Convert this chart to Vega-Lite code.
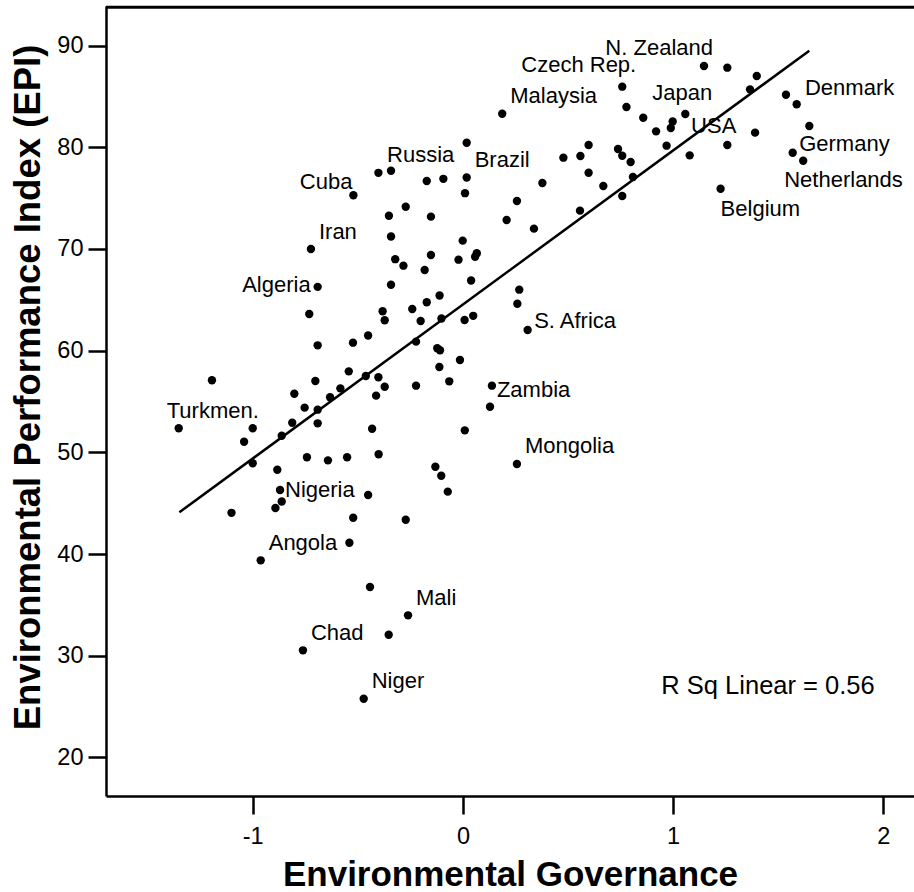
{
  "$schema": "https://vega.github.io/schema/vega-lite/v6.json",
  "width": 810,
  "height": 790,
  "autosize": {"type": "none"},
  "padding": {"left": 106, "top": 6, "right": -2, "bottom": 96},
  "background": "white",
  "config": {
    "view": {"stroke": null},
    "font": "Liberation Sans",
    "axis": {
      "domainColor": "black", "domainWidth": 2.5, "tickColor": "black", "tickWidth": 2.5, "tickSize": 18,
      "labelFont": "Liberation Sans", "labelFontSize": 23.5, "labelColor": "black",
      "titleFont": "Liberation Sans", "titleFontSize": 35, "titleFontWeight": "bold", "titleColor": "black",
      "grid": false
    }
  },
  "datasets": {
    "countries": [
      {"g": 1.147, "epi": 87.98, "country": "N. Zealand"},
      {"g": 1.258, "epi": 87.82},
      {"g": 1.398, "epi": 87.00},
      {"g": 1.366, "epi": 85.69},
      {"g": 0.758, "epi": 85.95, "country": "Czech Rep."},
      {"g": 0.778, "epi": 83.95},
      {"g": 0.187, "epi": 83.29, "country": "Malaysia"},
      {"g": 0.858, "epi": 82.90},
      {"g": 0.919, "epi": 81.56},
      {"g": 0.998, "epi": 82.53},
      {"g": 0.989, "epi": 81.89},
      {"g": 0.969, "epi": 80.15},
      {"g": 1.058, "epi": 83.26, "country": "Japan"},
      {"g": 1.537, "epi": 85.16, "country": "Denmark"},
      {"g": 1.588, "epi": 84.22},
      {"g": 1.648, "epi": 82.08},
      {"g": 1.390, "epi": 81.43},
      {"g": 1.258, "epi": 80.22, "country": "USA"},
      {"g": 1.079, "epi": 79.20},
      {"g": 1.569, "epi": 79.46, "country": "Germany"},
      {"g": 1.619, "epi": 78.67, "country": "Netherlands"},
      {"g": 1.226, "epi": 75.92, "country": "Belgium"},
      {"g": 0.809, "epi": 77.07},
      {"g": 0.758, "epi": 75.20},
      {"g": 0.738, "epi": 79.82},
      {"g": 0.758, "epi": 79.16},
      {"g": 0.798, "epi": 78.54},
      {"g": 0.598, "epi": 80.22},
      {"g": 0.478, "epi": 78.97},
      {"g": 0.559, "epi": 79.13},
      {"g": 0.598, "epi": 77.49},
      {"g": 0.668, "epi": 76.18},
      {"g": 0.557, "epi": 73.76},
      {"g": 0.378, "epi": 76.48},
      {"g": 0.338, "epi": 71.99},
      {"g": 0.257, "epi": 74.71},
      {"g": 0.208, "epi": 72.84},
      {"g": 0.018, "epi": 80.44},
      {"g": 0.018, "epi": 77.02, "country": "Brazil"},
      {"g": 0.010, "epi": 75.48},
      {"g": -0.093, "epi": 76.89},
      {"g": -0.172, "epi": 76.68},
      {"g": -0.342, "epi": 77.68, "country": "Russia"},
      {"g": -0.402, "epi": 77.48},
      {"g": -0.521, "epi": 75.28, "country": "Cuba"},
      {"g": -0.272, "epi": 74.14},
      {"g": -0.352, "epi": 73.26},
      {"g": -0.152, "epi": 73.17},
      {"g": -0.342, "epi": 71.22},
      {"g": -0.001, "epi": 70.81},
      {"g": -0.723, "epi": 69.99, "country": "Iran"},
      {"g": -0.322, "epi": 68.99},
      {"g": -0.283, "epi": 68.35},
      {"g": -0.152, "epi": 69.40},
      {"g": -0.182, "epi": 67.93},
      {"g": -0.021, "epi": 68.94},
      {"g": 0.066, "epi": 69.57},
      {"g": 0.058, "epi": 69.23},
      {"g": 0.039, "epi": 66.89},
      {"g": -0.691, "epi": 66.27, "country": "Algeria"},
      {"g": -0.342, "epi": 66.48},
      {"g": -0.731, "epi": 63.60},
      {"g": -0.382, "epi": 63.87},
      {"g": -0.372, "epi": 62.99},
      {"g": -0.241, "epi": 64.09},
      {"g": -0.172, "epi": 64.76},
      {"g": -0.111, "epi": 65.42},
      {"g": -0.201, "epi": 62.91},
      {"g": -0.102, "epi": 63.16},
      {"g": 0.008, "epi": 63.01},
      {"g": 0.049, "epi": 63.42},
      {"g": 0.268, "epi": 65.99},
      {"g": 0.259, "epi": 64.61},
      {"g": 0.308, "epi": 62.03, "country": "S. Africa"},
      {"g": -0.691, "epi": 60.52},
      {"g": -0.523, "epi": 60.78},
      {"g": -0.451, "epi": 61.48},
      {"g": -1.194, "epi": 57.08},
      {"g": -0.702, "epi": 57.01},
      {"g": -0.543, "epi": 57.96},
      {"g": -0.462, "epi": 57.50},
      {"g": -0.402, "epi": 57.38},
      {"g": -0.372, "epi": 56.45},
      {"g": -0.413, "epi": 55.57},
      {"g": -0.802, "epi": 55.76},
      {"g": -0.583, "epi": 56.29},
      {"g": -0.632, "epi": 55.41},
      {"g": -0.753, "epi": 54.39},
      {"g": -0.691, "epi": 54.19},
      {"g": -0.223, "epi": 60.88},
      {"g": -0.122, "epi": 60.23},
      {"g": -0.109, "epi": 60.03},
      {"g": -0.014, "epi": 59.08},
      {"g": -0.112, "epi": 58.39},
      {"g": -0.065, "epi": 56.98},
      {"g": -0.223, "epi": 56.55},
      {"g": 0.138, "epi": 56.55, "country": "Zambia"},
      {"g": 0.129, "epi": 54.48},
      {"g": 0.009, "epi": 52.16},
      {"g": 0.257, "epi": 48.85, "country": "Mongolia"},
      {"g": -0.131, "epi": 48.58},
      {"g": -0.103, "epi": 47.70},
      {"g": -0.072, "epi": 46.13},
      {"g": -0.272, "epi": 43.37},
      {"g": -1.352, "epi": 52.36, "country": "Turkmen."},
      {"g": -1.000, "epi": 52.36},
      {"g": -0.812, "epi": 52.91},
      {"g": -0.691, "epi": 52.85},
      {"g": -1.041, "epi": 51.04},
      {"g": -0.862, "epi": 51.63},
      {"g": -0.432, "epi": 52.32},
      {"g": -1.000, "epi": 48.92},
      {"g": -0.742, "epi": 49.51},
      {"g": -0.642, "epi": 49.21},
      {"g": -0.551, "epi": 49.51},
      {"g": -0.401, "epi": 49.81},
      {"g": -0.883, "epi": 48.29},
      {"g": -0.870, "epi": 46.29, "country": "Nigeria"},
      {"g": -0.862, "epi": 45.16},
      {"g": -0.892, "epi": 44.52},
      {"g": -0.451, "epi": 45.80},
      {"g": -1.101, "epi": 44.05},
      {"g": -0.522, "epi": 43.56},
      {"g": -0.540, "epi": 41.11},
      {"g": -0.962, "epi": 39.38, "country": "Angola"},
      {"g": -0.442, "epi": 36.76},
      {"g": -0.261, "epi": 33.97, "country": "Mali"},
      {"g": -0.353, "epi": 32.06},
      {"g": -0.761, "epi": 30.53, "country": "Chad"},
      {"g": -0.472, "epi": 25.77, "country": "Niger"}
    ],
    "fit": [
      {"g": -1.349, "epi": 44.10},
      {"g": 1.648, "epi": 89.49}
    ],
    "note": [
      {"g": 1.4515, "epi": 26.20, "text": "R Sq Linear = 0.56"}
    ]
  },
  "layer": [
    {"data": {"name": "countries"}, "mark": {"type": "circle", "size": 70, "color": "black", "opacity": 1},
      "encoding": {
        "x": {"field": "g", "type": "quantitative", "scale": {"domain": [-1.698, 2.1556], "nice": false, "zero": false},
          "axis": {"values": [-1, 0, 1, 2], "labelExpr": "toString(datum.value)", "title": "Environmental Governance", "labelPadding": 10, "titleBaseline": "alphabetic", "titleY": 89, "titleX": 404, "titleAnchor": "middle"}},
        "y": {"field": "epi", "type": "quantitative", "scale": {"domain": [16.205, 93.884], "nice": false, "zero": false},
          "axis": {"values": [20, 30, 40, 50, 60, 70, 80, 90], "title": "Environmental Performance Index (EPI)", "labelPadding": 5, "titleFontSize": 36.5, "titleBaseline": "alphabetic", "titleX": -67, "titleY": 381, "titleAngle": -90, "titleAlign": "center"}}
      }},
    {"data": {"name": "fit"}, "mark": {"type": "line", "color": "black", "strokeWidth": 2.5},
      "encoding": {"x": {"field": "g", "type": "quantitative"}, "y": {"field": "epi", "type": "quantitative"}}},
    {"data": {"name": "note"}, "mark": {"type": "text", "fontSize": 25.5, "align": "center", "baseline": "alphabetic", "color": "black"},
      "encoding": {"x": {"field": "g", "type": "quantitative"}, "y": {"field": "epi", "type": "quantitative"}, "text": {"field": "text"}}},
    {"data": {"name": "countries"}, "transform": [{"filter": {"field": "country", "oneOf": ["Iran", "Brazil", "Malaysia", "Mongolia", "Mali", "Chad", "Niger", "Angola"]}}],
      "mark": {"type": "text", "fontSize": 22, "align": "left", "baseline": "middle", "dx": 8, "dy": -17.5, "color": "black"},
      "encoding": {"x": {"field": "g", "type": "quantitative"}, "y": {"field": "epi", "type": "quantitative"}, "text": {"field": "country"}}},
    {"data": {"name": "countries"}, "transform": [{"filter": {"field": "country", "oneOf": ["Nigeria"]}}],
      "mark": {"type": "text", "fontSize": 22, "align": "left", "baseline": "middle", "dx": 5, "dy": 0, "color": "black"},
      "encoding": {"x": {"field": "g", "type": "quantitative"}, "y": {"field": "epi", "type": "quantitative"}, "text": {"field": "country"}}},
    {"data": {"name": "countries"}, "transform": [{"filter": {"field": "country", "oneOf": ["Zambia"]}}],
      "mark": {"type": "text", "fontSize": 22, "align": "left", "baseline": "middle", "dx": 5, "dy": 4, "color": "black"},
      "encoding": {"x": {"field": "g", "type": "quantitative"}, "y": {"field": "epi", "type": "quantitative"}, "text": {"field": "country"}}},
    {"data": {"name": "countries"}, "transform": [{"filter": {"field": "country", "oneOf": ["S. Africa", "Germany"]}}],
      "mark": {"type": "text", "fontSize": 22, "align": "left", "baseline": "middle", "dx": 6.5, "dy": -8.5, "color": "black"},
      "encoding": {"x": {"field": "g", "type": "quantitative"}, "y": {"field": "epi", "type": "quantitative"}, "text": {"field": "country"}}},
    {"data": {"name": "countries"}, "transform": [{"filter": {"field": "country", "oneOf": ["Russia"]}}],
      "mark": {"type": "text", "fontSize": 22, "align": "left", "baseline": "middle", "dx": -4, "dy": -16, "color": "black"},
      "encoding": {"x": {"field": "g", "type": "quantitative"}, "y": {"field": "epi", "type": "quantitative"}, "text": {"field": "country"}}},
    {"data": {"name": "countries"}, "transform": [{"filter": {"field": "country", "oneOf": ["Denmark"]}}],
      "mark": {"type": "text", "fontSize": 22, "align": "left", "baseline": "middle", "dx": 19, "dy": -7, "color": "black"},
      "encoding": {"x": {"field": "g", "type": "quantitative"}, "y": {"field": "epi", "type": "quantitative"}, "text": {"field": "country"}}},
    {"data": {"name": "countries"}, "transform": [{"filter": {"field": "country", "oneOf": ["Belgium"]}}],
      "mark": {"type": "text", "fontSize": 22, "align": "left", "baseline": "middle", "dx": 0, "dy": 20, "color": "black"},
      "encoding": {"x": {"field": "g", "type": "quantitative"}, "y": {"field": "epi", "type": "quantitative"}, "text": {"field": "country"}}},
    {"data": {"name": "countries"}, "transform": [{"filter": {"field": "country", "oneOf": ["Netherlands"]}}],
      "mark": {"type": "text", "fontSize": 22, "align": "left", "baseline": "middle", "dx": -19, "dy": 19, "color": "black"},
      "encoding": {"x": {"field": "g", "type": "quantitative"}, "y": {"field": "epi", "type": "quantitative"}, "text": {"field": "country"}}},
    {"data": {"name": "countries"}, "transform": [{"filter": {"field": "country", "oneOf": ["Turkmen."]}}],
      "mark": {"type": "text", "fontSize": 22, "align": "left", "baseline": "middle", "dx": -12, "dy": -17.6, "color": "black"},
      "encoding": {"x": {"field": "g", "type": "quantitative"}, "y": {"field": "epi", "type": "quantitative"}, "text": {"field": "country"}}},
    {"data": {"name": "countries"}, "transform": [{"filter": {"field": "country", "oneOf": ["Japan"]}}],
      "mark": {"type": "text", "fontSize": 22, "align": "center", "baseline": "middle", "dx": -3, "dy": -21, "color": "black"},
      "encoding": {"x": {"field": "g", "type": "quantitative"}, "y": {"field": "epi", "type": "quantitative"}, "text": {"field": "country"}}},
    {"data": {"name": "countries"}, "transform": [{"filter": {"field": "country", "oneOf": ["N. Zealand", "USA"]}}],
      "mark": {"type": "text", "fontSize": 22, "align": "right", "baseline": "middle", "dx": 9, "dy": -18.5, "color": "black"},
      "encoding": {"x": {"field": "g", "type": "quantitative"}, "y": {"field": "epi", "type": "quantitative"}, "text": {"field": "country"}}},
    {"data": {"name": "countries"}, "transform": [{"filter": {"field": "country", "oneOf": ["Czech Rep."]}}],
      "mark": {"type": "text", "fontSize": 22, "align": "right", "baseline": "middle", "dx": 14, "dy": -22, "color": "black"},
      "encoding": {"x": {"field": "g", "type": "quantitative"}, "y": {"field": "epi", "type": "quantitative"}, "text": {"field": "country"}}},
    {"data": {"name": "countries"}, "transform": [{"filter": {"field": "country", "oneOf": ["Cuba"]}}],
      "mark": {"type": "text", "fontSize": 22, "align": "right", "baseline": "middle", "dx": -1, "dy": -13.5, "color": "black"},
      "encoding": {"x": {"field": "g", "type": "quantitative"}, "y": {"field": "epi", "type": "quantitative"}, "text": {"field": "country"}}},
    {"data": {"name": "countries"}, "transform": [{"filter": {"field": "country", "oneOf": ["Algeria"]}}],
      "mark": {"type": "text", "fontSize": 22, "align": "right", "baseline": "middle", "dx": -7, "dy": -2, "color": "black"},
      "encoding": {"x": {"field": "g", "type": "quantitative"}, "y": {"field": "epi", "type": "quantitative"}, "text": {"field": "country"}}},
    {"data": {"values": [{"k": 1}]}, "mark": {"type": "rule", "color": "black", "strokeWidth": 3},
      "encoding": {"y": {"datum": 93.75}}}
  ]
}
